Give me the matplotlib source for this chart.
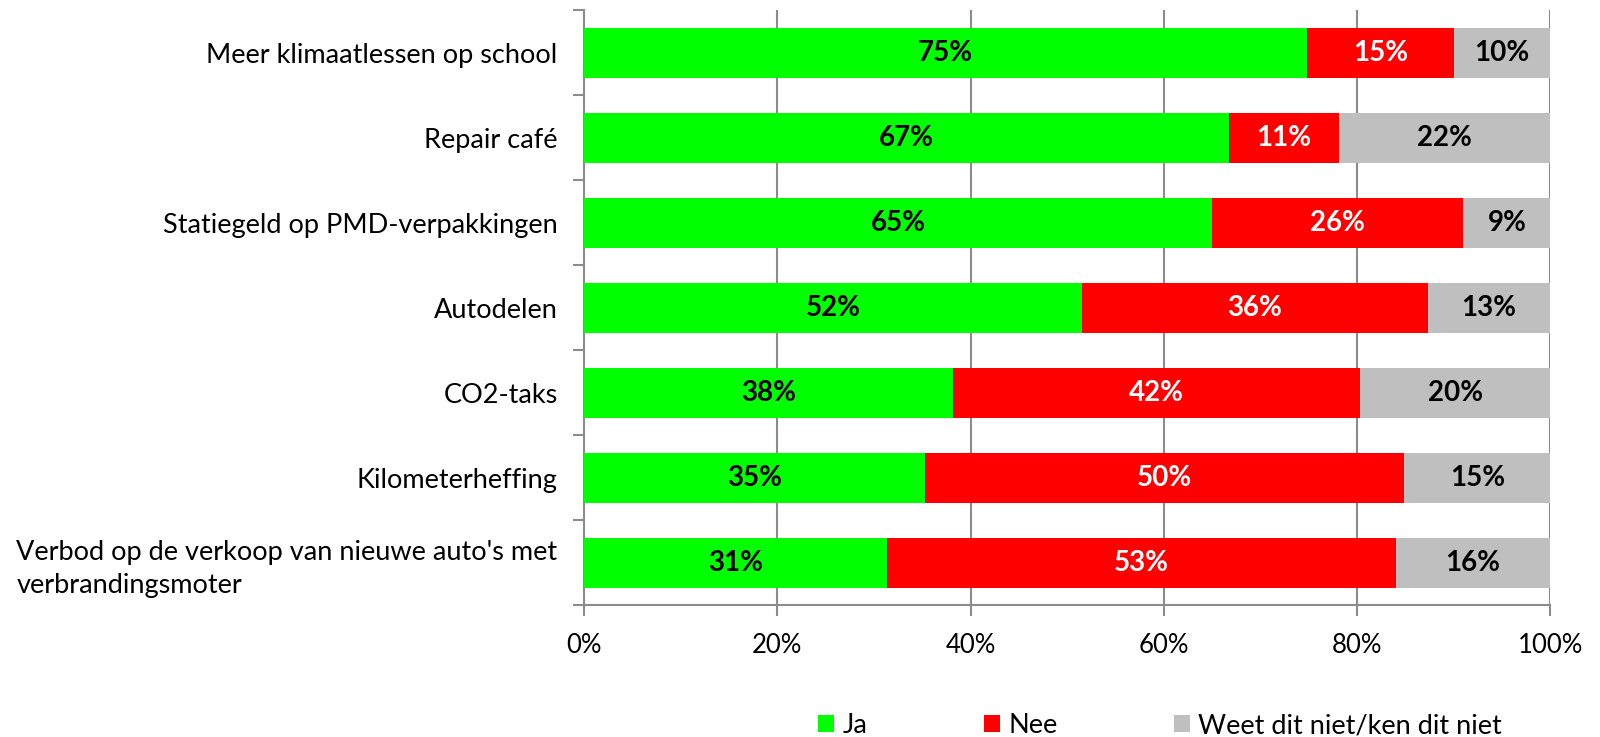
import matplotlib
matplotlib.use("Agg")
import matplotlib.pyplot as plt
import numpy as np
from matplotlib.patches import Patch

categories = [
    "Meer klimaatlessen op school",
    "Repair café",
    "Statiegeld op PMD-verpakkingen",
    "Autodelen",
    "CO2-taks",
    "Kilometerheffing",
    "Verbod op de verkoop van nieuwe auto's met\nverbrandingsmoter",
]
ja = [74.8, 66.7, 65.0, 51.5, 38.2, 35.3, 31.4]
nee = [15.2, 11.4, 26.0, 35.8, 42.1, 49.6, 52.6]
weet = [10.0, 21.9, 9.0, 12.7, 19.7, 15.1, 16.0]
series_names = ["Ja", "Nee", "Weet dit niet/ken dit niet"]
colors = ["#00FF00", "#FF0000", "#BFBFBF"]
label_colors = ["black", "white", "black"]
xticks = [0, 20, 40, 60, 80, 100]

plt.rcParams['font.family'] = ['Lato', 'DejaVu Sans']
fig = plt.figure(figsize=(16, 7.37), dpi=100)
ax = fig.add_axes([0.365, 0.179, 0.969 - 0.365, 0.986 - 0.179])

y = np.arange(len(categories))
left = np.zeros(len(categories))
grid_c = "#8C8C8C"
for vals, col, lc in zip([ja, nee, weet], colors, label_colors):
    vals = np.array(vals)
    ax.barh(y, vals, left=left, height=0.59, color=col, zorder=3)
    for yi, l, v in zip(y, left, vals):
        ax.text(l + v / 2, yi, f"{round(v):.0f}%", ha="center", va="center",
                color=lc, fontsize=20, fontweight="bold", zorder=4)
    left = left + vals

ax.set_xlim(0, 100)
ax.set_ylim(len(categories) - 0.5, -0.5)
ax.set_xticks(xticks)
ax.set_xticklabels([f"{t}%" for t in xticks], fontsize=18.5)
ax.set_yticks(y)
ax.set_yticklabels(categories, fontsize=19.5, multialignment="left", linespacing=1.4)
ax.tick_params(axis="y", which="major", length=0, pad=19)
ax.set_yticks(np.arange(-0.5, len(categories) + 0.5, 1), minor=True)
ax.tick_params(axis="y", which="minor", length=8, color=grid_c, width=1.5)
ax.tick_params(axis="x", which="major", length=8, color=grid_c, width=1.5, pad=12)
ax.grid(axis="x", color=grid_c, linewidth=1.5, zorder=0)
for s in ["top", "right"]:
    ax.spines[s].set_visible(False)
for s in ["left", "bottom"]:
    ax.spines[s].set_color(grid_c)
    ax.spines[s].set_linewidth(1.5)

handles = [Patch(facecolor=c, edgecolor="none") for c in colors]
fig.legend(handles, series_names, loc="center", bbox_to_anchor=(0.725, 0.015),
           ncol=3, frameon=False, fontsize=19.5, handlelength=0.6, handleheight=0.6,
           handletextpad=0.3, columnspacing=4.3)

fig.savefig("out.png", dpi=100)
